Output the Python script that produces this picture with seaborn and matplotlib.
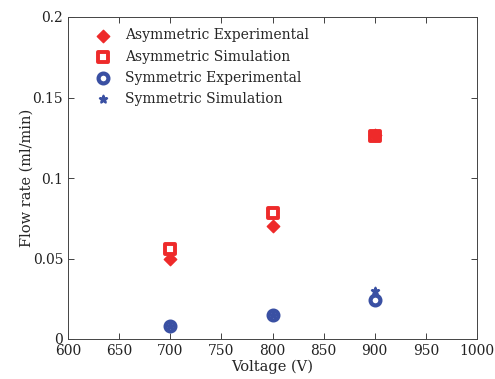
import matplotlib
matplotlib.use("Agg")
import matplotlib.pyplot as plt
import seaborn as sns
import pandas as pd

voltage = [700, 800, 900]
asym_exp = [0.050, 0.070, 0.127]
asym_sim = [0.056, 0.078, 0.126]
sym_exp = [0.008, 0.015, 0.024]
sym_sim = [0.008, 0.015, 0.030]

sns.set_theme(style="ticks")
plt.rcParams['font.family'] = ['DejaVu Serif']

fig = plt.figure(figsize=(4.95, 3.79), dpi=100)
ax = fig.add_axes([68/495, 1-339/379, (477-68)/495, (339-17)/379])

red = "#ee2a2a"
blue = "#3a50a3"

sns.scatterplot(x=voltage, y=asym_exp, ax=ax, marker="D", s=40, color=red,
                edgecolor=red, linewidth=1.0, label="Asymmetric Experimental", zorder=4)
sns.scatterplot(x=voltage, y=asym_sim, ax=ax, marker="s", s=42, facecolor="white",
                edgecolor=red, linewidth=2.8, label="Asymmetric Simulation", zorder=3)
sns.scatterplot(x=voltage, y=sym_exp, ax=ax, marker="o", s=50, facecolor="white",
                edgecolor=blue, linewidth=3.0, label="Symmetric Experimental", zorder=3)
sns.scatterplot(x=voltage, y=sym_sim, ax=ax, marker="*", s=30, color=blue,
                edgecolor=blue, linewidth=1.6, label="Symmetric Simulation", zorder=4)

ax.set_xlim(600, 1000)
ax.set_ylim(0, 0.2)
ax.set_xticks(range(600, 1001, 50))
ax.set_yticks([0, 0.05, 0.1, 0.15, 0.2])
ax.set_yticklabels(["0", "0.05", "0.1", "0.15", "0.2"])
ax.tick_params(direction="in", top=True, right=True, labelsize=10, length=4, width=0.6, colors="#222222")
for sp in ax.spines.values():
    sp.set_linewidth(0.7)
    sp.set_color("#444444")
ax.set_xlabel("Voltage (V)", fontsize=10.5, labelpad=1)
ax.set_ylabel("Flow rate (ml/min)", fontsize=10.5, labelpad=-1)

leg = ax.legend(loc="upper left", frameon=False, fontsize=10, handletextpad=0.6,
                borderaxespad=0.3, labelspacing=0.52, bbox_to_anchor=(0.028, 0.995))

fig.savefig("out.png", dpi=100)
